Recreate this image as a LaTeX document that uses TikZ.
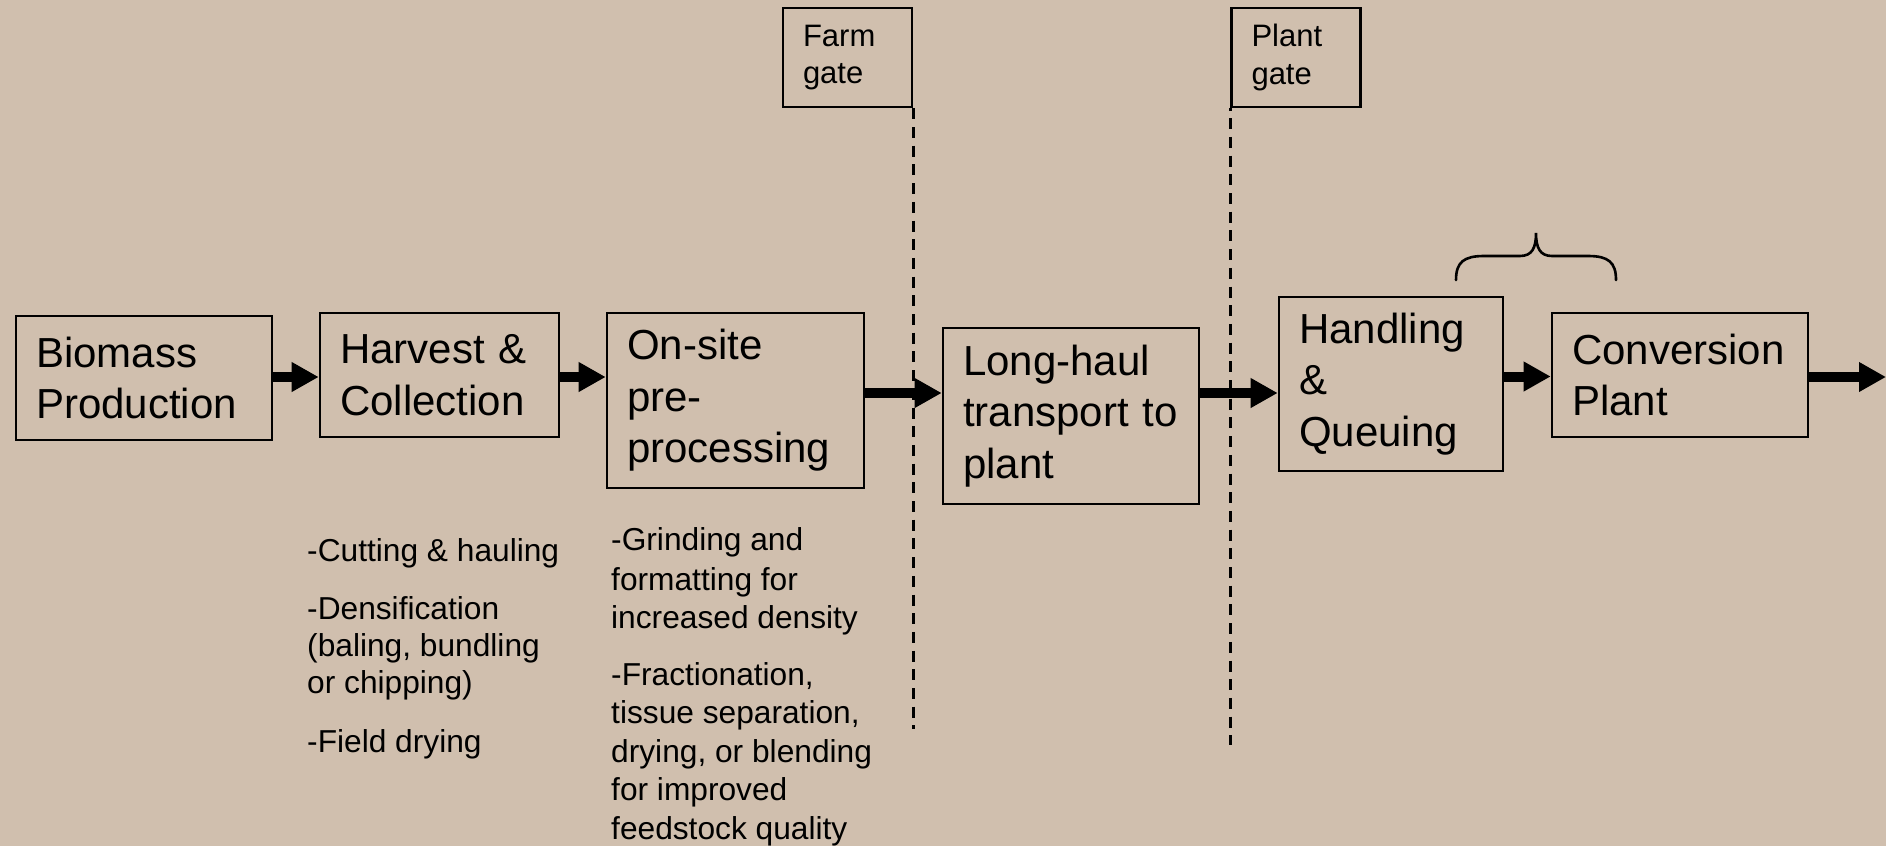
\documentclass[tikz,border=0pt]{standalone}
\usepackage{fontspec}
\setmainfont{Liberation Sans}
\usetikzlibrary{arrows.meta}
\definecolor{bg}{RGB}{208,191,174}
\begin{document}
\begin{tikzpicture}[x=1pt,y=-1pt,
  box/.style={draw, line width=2.6pt, rectangle, inner xsep=20pt, inner ysep=0pt, align=left,
    font=\fontsize{42}{51.5}\selectfont},
  gatebox/.style={draw, line width=2.6pt, rectangle, inner xsep=20pt, inner ysep=0pt, align=left,
    minimum width=129pt, minimum height=99pt, text width=89pt,
    font=\fontsize{31}{37.5}\selectfont},
  note/.style={anchor=base west, inner sep=0pt, font=\fontsize{31.7}{38.5}\selectfont},
  flow/.style={line width=10pt, -{Triangle[length=27pt,width=28pt]}},
  gateline/.style={line width=3pt, dash pattern=on 11pt off 7.7pt},
]
\fill[bg] (0,0) rectangle (1886,846);
\useasboundingbox (0,0) rectangle (1886,846);

% main process boxes
\node[box, minimum width=256pt, minimum height=124pt, text width=216pt] (bio) at (144,378) {Biomass\\Production};
\node[box, minimum width=239pt, minimum height=124pt, text width=199pt] (har) at (439.5,375) {Harvest \&\\Collection};
\node[box, minimum width=257pt, minimum height=175pt, text width=217pt] (ons) at (735.5,400.5) {On-site\\pre-\\processing};
\node[box, minimum width=256pt, minimum height=176pt, text width=216pt] (lhl) at (1071,416) {Long-haul\\transport to\\plant};
\node[box, minimum width=224pt, minimum height=174pt, text width=184pt] (hnd) at (1391,384) {Handling\\\&\\Queuing};
\node[box, minimum width=256pt, minimum height=124pt, text width=216pt] (cnv) at (1680,375) {Conversion\\Plant};

% gate boxes
\node[gatebox] (farm) at (847.5,57.5) {Farm\\gate};
\node[gatebox] (plant) at (1296,57.5) {Plant\\gate};

% gate lines
\coordinate (farmend) at (912,729);
\coordinate (plantend) at (1232,745);
\draw[gateline] (farm.south east) -- (farm.south east |- farmend);
\draw[gateline, dash phase=8.8pt] (plant.south west) -- (plant.south west |- plantend);

% flow arrows
\coordinate (yA) at (0,377);
\coordinate (yB) at (0,393);
\coordinate (yC) at (0,376.5);
\coordinate (out) at (1886,377);
\draw[flow] (bio.east |- yA) -- (har.west |- yA);
\draw[flow] (har.east |- yA) -- (ons.west |- yA);
\draw[flow] (ons.east |- yB) -- (lhl.west |- yB);
\draw[flow] (lhl.east |- yB) -- (hnd.west |- yB);
\draw[flow] (hnd.east |- yC) -- (cnv.west |- yC);
\draw[flow] (cnv.east |- out) -- (out);

% brace
\draw[line width=2.6pt, line cap=round]
  (1456,280) .. controls (1456,262) and (1464,256) .. (1484,256) -- (1520,256)
  .. controls (1532,256) and (1536,248) .. (1536,233)
  .. controls (1536,248) and (1540,256) .. (1552,256) -- (1588,256)
  .. controls (1608,256) and (1616,262) .. (1616,280);

% notes
\foreach \t/\y [count=\i] in {{-Cutting \& hauling}/561, {-Densification}/619, {(baling, bundling}/656, {or chipping)}/693, {-Field drying}/752}
  \node[note] (hn\i) at (307,\y) {\t};
\foreach \t/\y [count=\i] in {{-Grinding and}/550, {formatting for}/590, {increased density}/628, {-Fractionation,}/685, {tissue separation,}/723, {drying, or blending}/762, {for improved}/800, {feedstock quality}/839}
  \node[note] (pn\i) at (611,\y) {\t};
\end{tikzpicture}
\end{document}
